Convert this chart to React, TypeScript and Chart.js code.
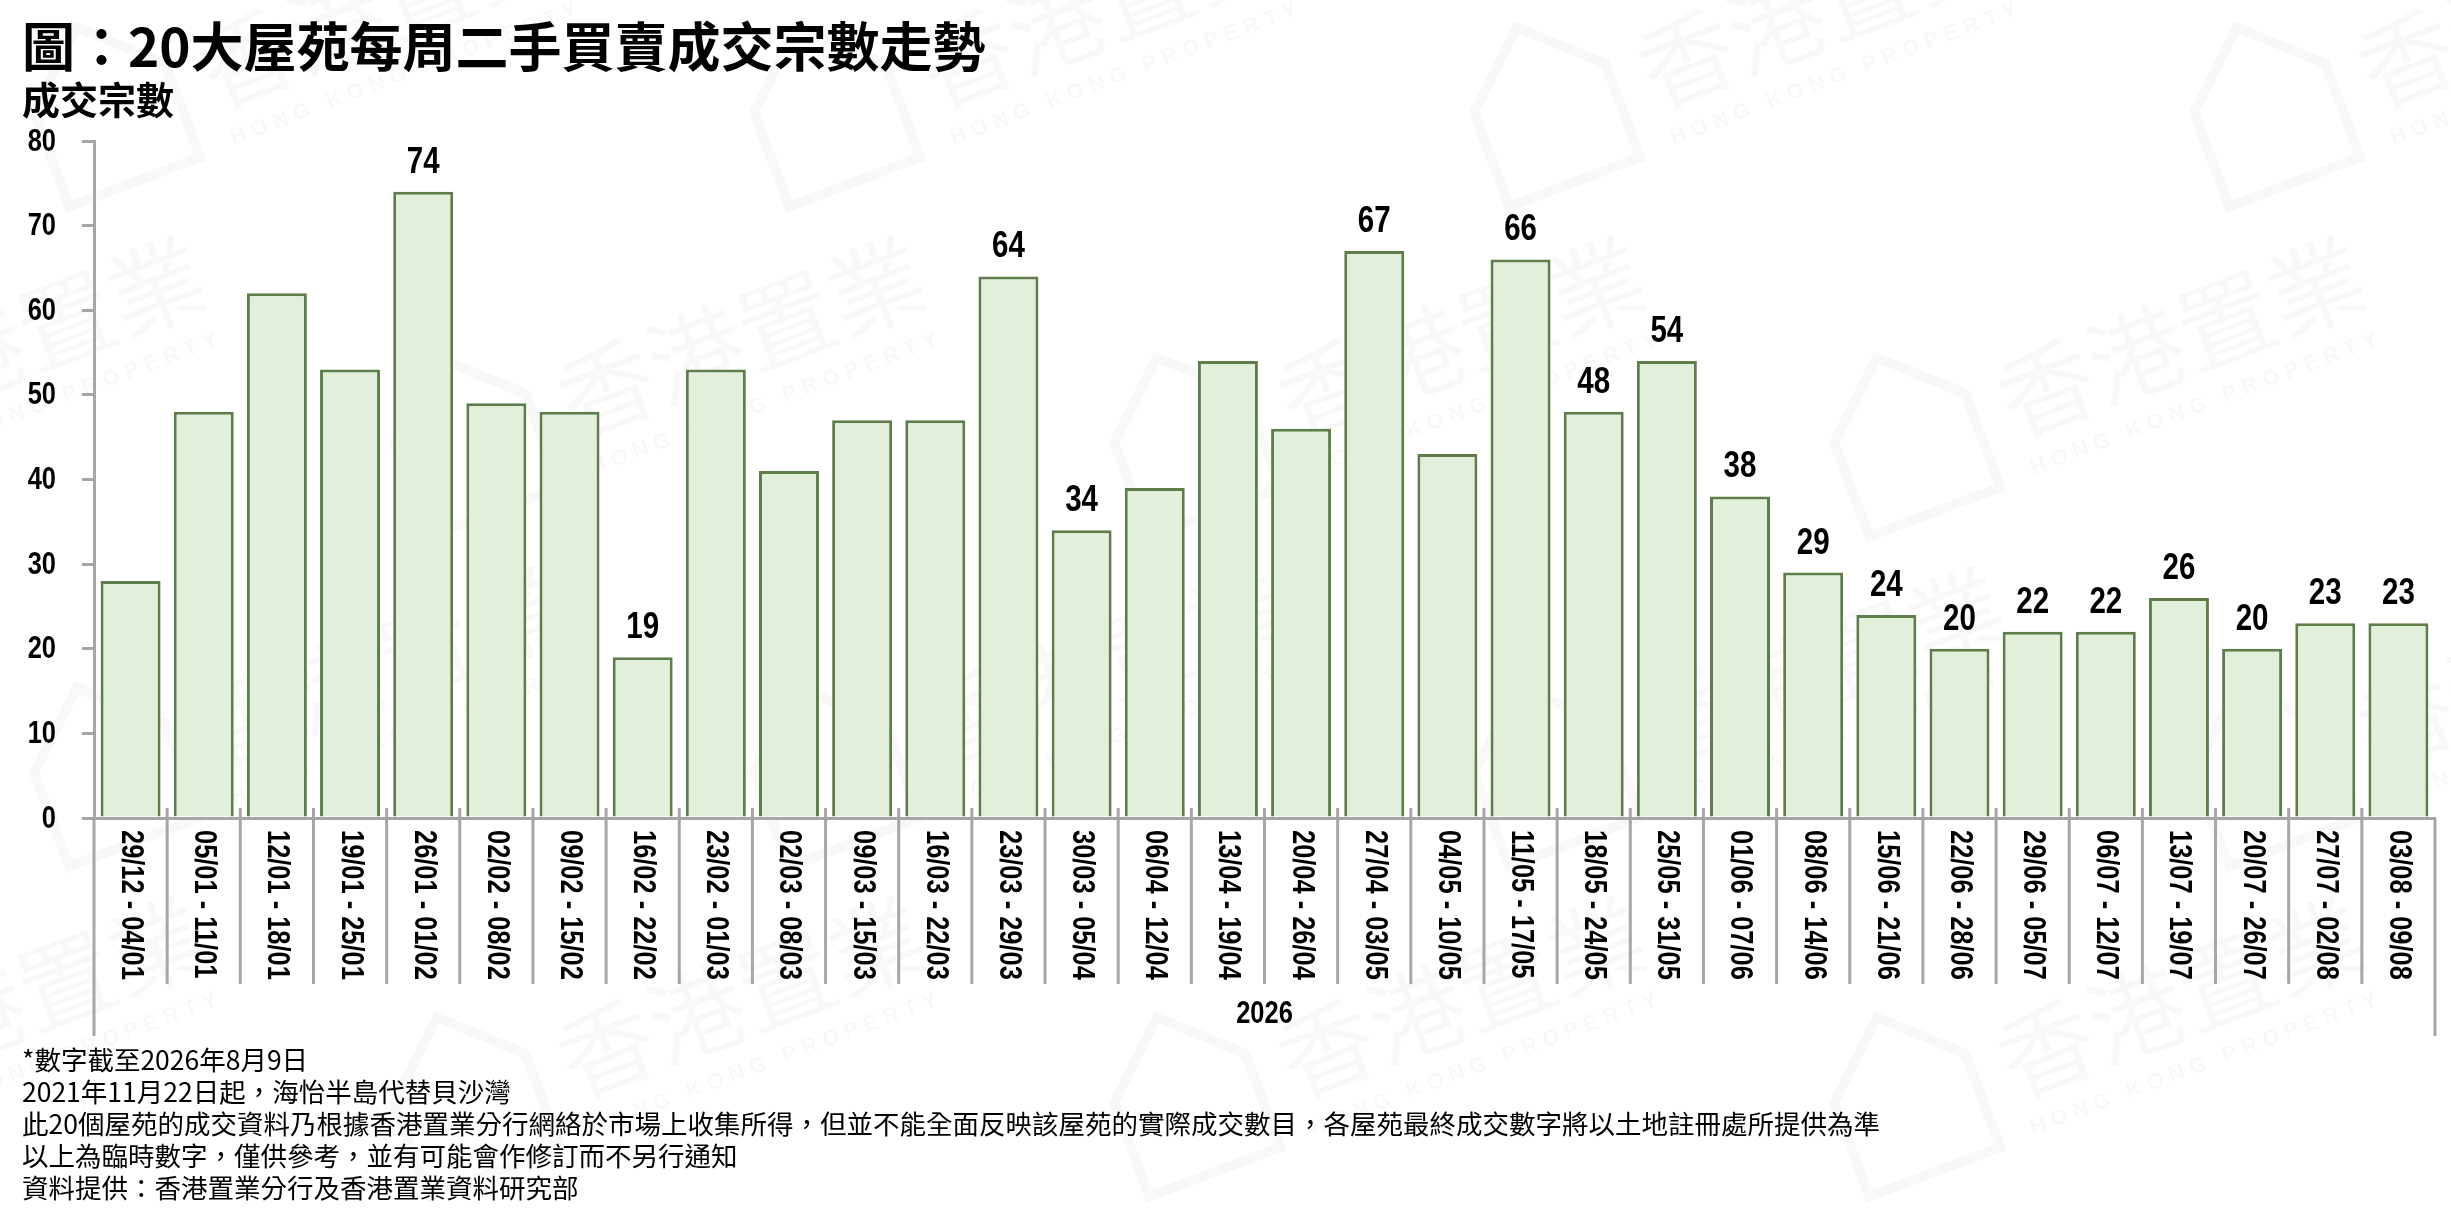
import { useEffect, useRef } from "react";
import { Chart, registerables } from "chart.js";

Chart.register(...registerables);

const weeks = [
  "29/12 - 04/01", "05/01 - 11/01", "12/01 - 18/01", "19/01 - 25/01",
  "26/01 - 01/02", "02/02 - 08/02", "09/02 - 15/02", "16/02 - 22/02",
  "23/02 - 01/03", "02/03 - 08/03", "09/03 - 15/03", "16/03 - 22/03",
  "23/03 - 29/03", "30/03 - 05/04", "06/04 - 12/04", "13/04 - 19/04",
  "20/04 - 26/04", "27/04 - 03/05", "04/05 - 10/05", "11/05 - 17/05",
  "18/05 - 24/05", "25/05 - 31/05", "01/06 - 07/06", "08/06 - 14/06",
  "15/06 - 21/06", "22/06 - 28/06", "29/06 - 05/07", "06/07 - 12/07",
  "13/07 - 19/07", "20/07 - 26/07", "27/07 - 02/08", "03/08 - 09/08"
];

const deals = [
  28, 48, 62, 53, 74, 49, 48, 19, 53, 41, 47, 47, 64, 34, 39, 54,
  46, 67, 43, 66, 48, 54, 38, 29, 24, 20, 22, 22, 26, 20, 23, 23
];

// bars that carry a value label in the original
const labelled = [4, 7, 12, 13, 17, 19, 20, 21, 22, 23, 24, 25, 26, 27, 28, 29, 30, 31];

const yMin = 0;
const yMax = 80;
const yStep = 10;
const yearLabel = "2026";

const title = "圖：20大屋苑每周二手買賣成交宗數走勢";
const yTitle = "成交宗數";
const notes = [
  "*數字截至2026年8月9日",
  "2021年11月22日起，海怡半島代替貝沙灣",
  "此20個屋苑的成交資料乃根據香港置業分行網絡於市場上收集所得，但並不能全面反映該屋苑的實際成交數目，各屋苑最終成交數字將以土地註冊處所提供為準",
  "以上為臨時數字，僅供參考，並有可能會作修訂而不另行通知",
  "資料提供：香港置業分行及香港置業資料研究部"
];

const W = 2451;
const H = 1220;
const axisGray = "#a6a6a6";
const sans = '"Liberation Sans", Arial, sans-serif';
const cjk = '"Noto Sans CJK TC", "Noto Sans CJK SC", sans-serif';
const squeeze = 0.82; // narrow face look

// text squeezed along its own direction
function narrowText(ctx: CanvasRenderingContext2D, text: string, x: number, y: number, angle = 0) {
  ctx.save();
  ctx.translate(x, y);
  if (angle) ctx.rotate(angle);
  ctx.scale(squeeze, 1);
  ctx.fillText(text, 0, 0);
  ctx.restore();
}

const watermark = {
  id: "watermark",
  beforeDraw(chart: any) {
    const { ctx } = chart;
    ctx.save();
    ctx.fillStyle = "rgba(0,0,0,0.028)";
    ctx.strokeStyle = "rgba(0,0,0,0.028)";
    for (let row = -1; row < 5; row++) {
      for (let col = -1; col < 5; col++) {
        const cx = col * 720 + (((row % 2) + 2) % 2) * 360 + 260;
        const cy = row * 330 + 60;
        ctx.save();
        ctx.translate(cx, cy);
        ctx.rotate(-0.36);
        ctx.lineWidth = 10;
        ctx.beginPath();
        ctx.moveTo(-230, 70);
        ctx.lineTo(-230, -30);
        ctx.lineTo(-160, -95);
        ctx.lineTo(-90, -30);
        ctx.lineTo(-90, 70);
        ctx.closePath();
        ctx.stroke();
        ctx.font = `96px ${cjk}`;
        ctx.textBaseline = "alphabetic";
        ctx.fillText("香港置業", -60, 30);
        ctx.font = `bold 22px ${sans}`;
        ctx.fillText("H O N G   K O N G   P R O P E R T Y", -55, 70);
        ctx.restore();
      }
    }
    ctx.restore();
  }
};

const overlay = {
  id: "overlay",
  afterDraw(chart: any) {
    const { ctx, chartArea } = chart;
    const x = chart.scales.x;
    const y = chart.scales.y;
    const n = weeks.length;
    ctx.save();
    ctx.strokeStyle = axisGray;
    ctx.lineWidth = 3;
    for (let i = 0; i <= n; i++) {
      const outer = i === 0 || i === n;
      const px = i === 0 ? chartArea.left : i === n ? chartArea.right
        : (x.getPixelForTick(i - 1) + x.getPixelForTick(i)) / 2;
      ctx.beginPath();
      ctx.moveTo(px, outer ? chartArea.bottom : chartArea.bottom - 10);
      ctx.lineTo(px, outer ? chartArea.bottom + 218 : chartArea.bottom + 166);
      ctx.stroke();
    }

    ctx.fillStyle = "#000";

    // y tick labels
    ctx.font = `bold 31px ${sans}`;
    ctx.textAlign = "right";
    ctx.textBaseline = "middle";
    for (let v = yMin; v <= yMax; v += yStep) {
      narrowText(ctx, String(v), chartArea.left - 38, y.getPixelForValue(v) + 1);
    }

    // week labels, rotated to read top to bottom
    ctx.textAlign = "left";
    weeks.forEach((w, i) => {
      narrowText(ctx, w, x.getPixelForTick(i), chartArea.bottom + 12, Math.PI / 2);
    });
    ctx.textAlign = "center";
    narrowText(ctx, yearLabel, (chartArea.left + chartArea.right) / 2, chartArea.bottom + 196);

    // value labels
    const meta = chart.getDatasetMeta(0);
    ctx.font = `bold 36px ${sans}`;
    ctx.textBaseline = "alphabetic";
    labelled.forEach((i) => {
      const el = meta.data[i];
      narrowText(ctx, String(deals[i]), el.x, el.y - 19);
    });
    ctx.restore();
  }
};

export default function App() {
  const chartRef = useRef<HTMLCanvasElement | null>(null);
  const chartInstance = useRef<Chart | null>(null);

  useEffect(() => {
    if (!chartRef.current) return;
    if (chartInstance.current) chartInstance.current.destroy();
    const ctx = chartRef.current.getContext("2d");
    if (!ctx) return;

    chartInstance.current = new Chart(ctx, {
      type: "bar",
      data: {
        labels: weeks,
        datasets: [
          {
            label: yTitle,
            data: deals,
            backgroundColor: "#e2efda",
            borderColor: "#5f7d4b",
            borderWidth: 3,
            barPercentage: 0.82,
            categoryPercentage: 1
          }
        ]
      },
      options: {
        responsive: false,
        devicePixelRatio: 1,
        animation: false,
        layout: { padding: { left: 0, top: 141, right: 16, bottom: 0 } },
        plugins: {
          legend: { display: false },
          tooltip: { enabled: false }
        },
        scales: {
          x: {
            offset: true,
            grid: { display: false },
            border: { display: true, color: axisGray, width: 3 },
            ticks: { display: false },
            afterFit: (scale: any) => {
              scale.height = 402;
            }
          },
          y: {
            min: yMin,
            max: yMax,
            grid: {
              drawOnChartArea: false,
              drawTicks: true,
              tickLength: 12,
              color: axisGray,
              lineWidth: 3
            },
            border: { display: true, color: axisGray, width: 3 },
            ticks: {
              stepSize: yStep,
              padding: 26,
              color: "rgba(0,0,0,0)",
              font: { family: sans, size: 31, weight: "bold" }
            },
            afterFit: (scale: any) => {
              scale.width = 94;
            }
          }
        }
      },
      plugins: [watermark, overlay]
    });

    return () => {
      if (chartInstance.current) {
        chartInstance.current.destroy();
        chartInstance.current = null;
      }
    };
  }, []);

  return (
    <div style={{ position: "absolute", left: 0, top: 0, width: W, height: H, overflow: "hidden", background: "#fff" }}>
      <canvas ref={chartRef} width={W} height={H} style={{ position: "absolute", left: 0, top: 0 }} />
      <div style={{ position: "absolute", left: 22, top: 18, fontFamily: cjk, fontWeight: "bold", fontSize: 53, lineHeight: "53px", whiteSpace: "nowrap", color: "#000" }}>
        {title}
      </div>
      <div style={{ position: "absolute", left: 22, top: 79, fontFamily: cjk, fontWeight: "bold", fontSize: 38, lineHeight: "38px", whiteSpace: "nowrap", color: "#000" }}>
        {yTitle}
      </div>
      <div style={{ position: "absolute", left: 22, top: 1043, fontFamily: cjk, fontSize: 26.5, lineHeight: "32px", whiteSpace: "nowrap", color: "#000" }}>
        {notes.map((t) => (
          <div key={t}>{t}</div>
        ))}
      </div>
    </div>
  );
}
